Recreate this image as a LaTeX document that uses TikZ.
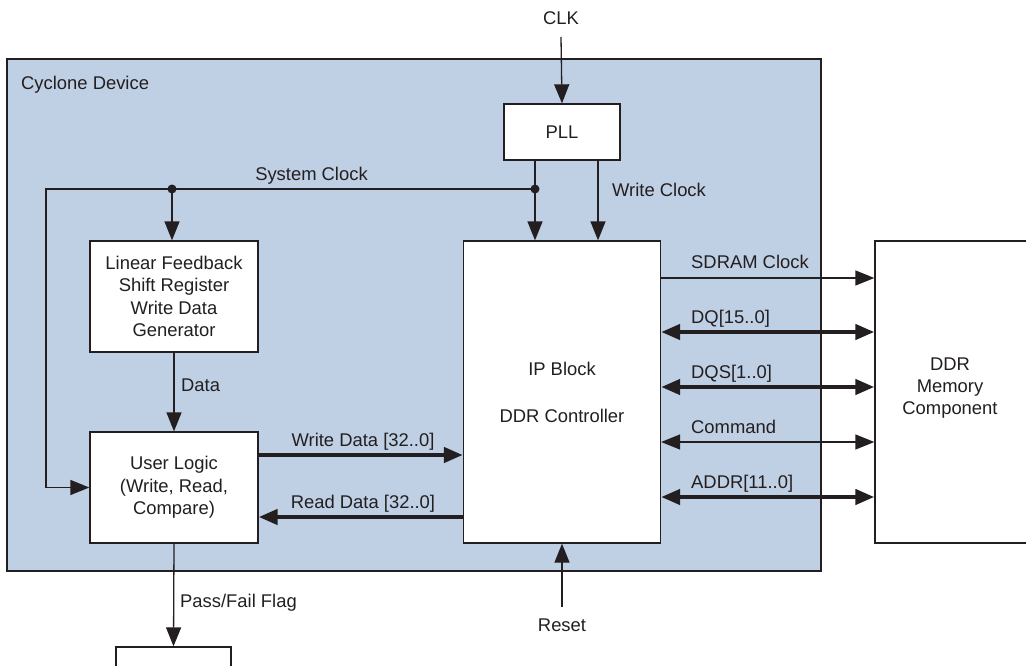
\documentclass[tikz,border=0pt]{standalone}
\usepackage{fontspec}
\setmainfont{Liberation Sans}
\usetikzlibrary{arrows.meta,calc}
\definecolor{ink}{RGB}{35,31,32}
\definecolor{devblue}{RGB}{191,207,228}
\begin{document}
\begin{tikzpicture}[x=1pt,y=-1pt,
  every node/.style={font=\fontsize{18.4}{22.3}\selectfont, text=ink},
  blk/.style={draw=ink, fill=white, line width=1.3pt, align=center, inner sep=0pt},
  lbl/.style={inner sep=0pt, align=center},
  wire/.style={draw=ink, line width=1.3pt},
  bus/.style={draw=ink, line width=4.2pt},
  >={Triangle[length=19pt,width=15pt]}]
\useasboundingbox (0,0) rectangle (1026,666);
\clip (0,0) rectangle (1026,666);

% device outline and blocks
\node[blk, fill=devblue, minimum width=814pt, minimum height=512pt] (dev) at (414,315) {};
\node[lbl, anchor=base west] (devlbl) at (21,90) {Cyclone Device};
\node[blk, minimum width=116pt, minimum height=56pt] (pll) at (562,132) {PLL};
\node[blk, minimum width=168pt, minimum height=111pt] (lfsr) at (174,296.5)
  {Linear Feedback\\Shift Register\\Write Data\\Generator};
\node[blk, minimum width=168pt, minimum height=111pt] (user) at (174,487.5)
  {User Logic\\(Write, Read,\\Compare)};
\node[blk, minimum width=197pt, minimum height=302pt] (ip) at (562,392)
  {IP Block\\[24.7pt]DDR Controller};
\node[blk, minimum width=170pt, minimum height=302pt] (ddr) at (960,392) {};
\node[lbl] (ddrlbl) at (950,388) {DDR\\Memory\\Component};
\node[blk, minimum width=115pt, minimum height=60pt] (flag) at (173.5,677) {};

% signal labels
\node[lbl, anchor=base] (clk) at (561,24.6) {CLK};
\node[lbl, anchor=base] (sysclk) at (311.5,181) {System Clock};
\node[lbl, anchor=base west] (wclk) at (612,196.6) {Write Clock};
\node[lbl, anchor=base west] (datalbl) at (181,391.6) {Data};
\node[lbl, anchor=base] (wdlbl) at (363,446.6) {Write Data [32..0]};
\node[lbl, anchor=base] (rdlbl) at (363,508.6) {Read Data [32..0]};
\node[lbl, anchor=base west] (pflbl) at (180,607.6) {Pass/Fail Flag};
\node[lbl, anchor=base] (reset) at (562,631.5) {Reset};
\node[lbl, anchor=base west] (sdlbl) at (691,268.6) {SDRAM Clock};
\node[lbl, anchor=base west] (dqlbl) at (691,323.6) {DQ[15..0]};
\node[lbl, anchor=base west] (dqslbl) at (691,378.6) {DQS[1..0]};
\node[lbl, anchor=base west] (cmdlbl) at (691,433.6) {Command};
\node[lbl, anchor=base west] (addrlbl) at (691,488.6) {ADDR[11..0]};

% routing points
\coordinate (sysdot) at (535,189);
\coordinate (lfdot) at (172,189);
\coordinate (systurn) at (46,189);
\coordinate (wcx) at (598,0);
\coordinate (ywd) at (0,455);
\coordinate (yrd) at (0,517);
\coordinate (ysd) at (0,278);
\coordinate (ydq) at (0,332);
\coordinate (ydqs) at (0,387);
\coordinate (ycmd) at (0,442);
\coordinate (yaddr) at (0,497);

% clock distribution
\draw[wire,->] ([yshift=-12pt]clk.south) -- (pll.north);
\draw[wire,->] (pll.south -| sysdot) -- (ip.north -| sysdot);
\draw[wire,->] (sysdot) -- (systurn) |- (user.west);
\draw[wire,->] (lfdot) -- (lfsr.north -| lfdot);
\draw[wire,->] (pll.south -| wcx) -- (ip.north -| wcx);
\fill[ink] (sysdot) circle (4.5pt);
\fill[ink] (lfdot) circle (4.5pt);

% data paths
\draw[wire,->] (lfsr.south) -- (user.north);
\draw[bus,->] (user.east |- ywd) -- (ip.west |- ywd);
\draw[bus,->] (ip.west |- yrd) -- (user.east |- yrd);
\draw[wire,->] (user.south) -- (flag.north);
\draw[wire,->] ([yshift=12pt]reset.north) -- (ip.south);

% memory interface
\draw[wire,->] (ip.east |- ysd) -- (ddr.west |- ysd);
\draw[bus,<->] (ip.east |- ydq) -- (ddr.west |- ydq);
\draw[bus,<->] (ip.east |- ydqs) -- (ddr.west |- ydqs);
\draw[wire,<->] (ip.east |- ycmd) -- (ddr.west |- ycmd);
\draw[bus,<->] (ip.east |- yaddr) -- (ddr.west |- yaddr);
\end{tikzpicture}
\end{document}
